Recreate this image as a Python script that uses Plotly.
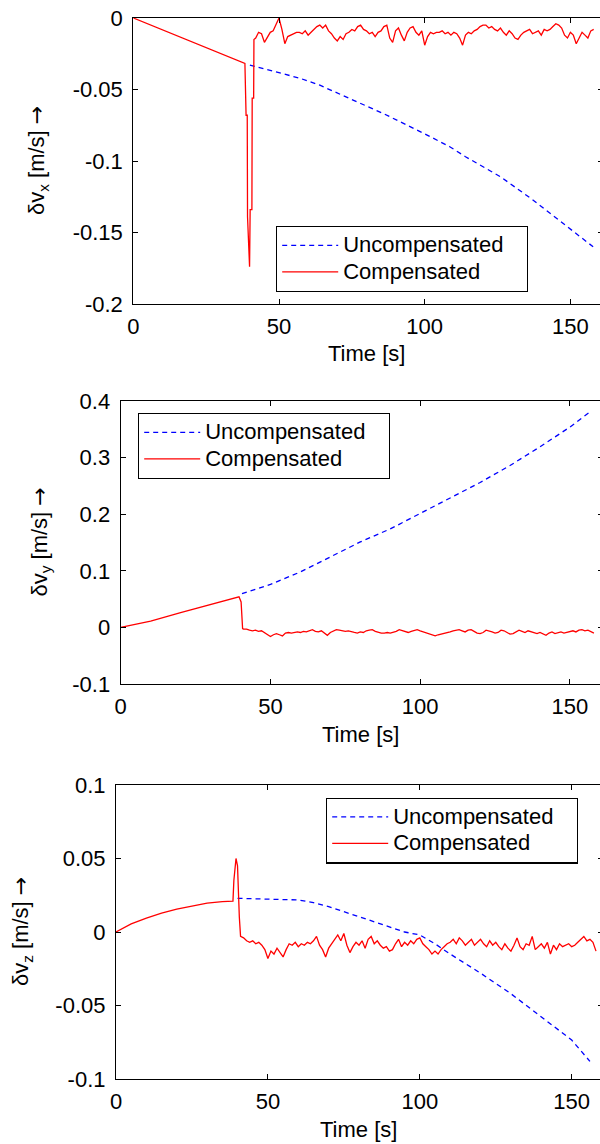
import plotly.graph_objects as go

# ---------------- data ----------------
# common sample times of the compensated (noisy) part, seconds
NOISE_T = [42, 43, 44, 45, 46, 47, 48, 49, 50, 51, 52, 53, 54, 55, 56, 57, 58, 59,
           60, 61, 62, 63, 64, 65, 66, 67, 68, 69, 70, 71, 72, 73, 74, 75, 76, 77,
           78, 79, 80, 81, 82, 83, 84, 85, 86, 87, 88, 89, 90, 91, 92, 93, 94, 95,
           96, 97, 98, 99, 100, 101, 102, 103, 104, 105, 106, 107, 108, 109, 110,
           111, 112, 113, 114, 115, 116, 117, 118, 119, 120, 121, 122, 123, 124,
           125, 126, 127, 128, 129, 130, 131, 132, 133, 134, 135, 136, 137, 138,
           139, 140, 141, 142, 143, 144, 145, 146, 147, 148, 149, 150, 151, 152,
           153, 154, 155, 156, 157, 158]

# ---- panel 1 : delta v_x ----
X_COMP_T = [0, 10, 20, 30, 38.3, 38.7, 39.1, 39.2, 39.9, 40.1, 40.7, 40.8, 41.3, 41.4]
X_COMP_V = [0, -0.0083, -0.0166, -0.0248, -0.0317, -0.068, -0.068, -0.139, -0.174,
            -0.134, -0.134, -0.056, -0.056, -0.015]
X_NOISE = [-0.014, -0.010, -0.011, -0.017, -0.013, -0.010, -0.009, -0.005, 0.000, -0.008,
           -0.018, -0.013, -0.012, -0.011, -0.010, -0.010, -0.011, -0.009, -0.012, -0.010,
           -0.008, -0.006, -0.005, -0.007, -0.005, -0.009, -0.011, -0.014, -0.016, -0.013,
           -0.015, -0.011, -0.010, -0.008, -0.009, -0.006, -0.005, -0.008, -0.009, -0.011,
           -0.010, -0.013, -0.010, -0.009, -0.006, -0.005, -0.014, -0.017, -0.009, -0.007,
           -0.012, -0.016, -0.010, -0.007, -0.006, -0.010, -0.012, -0.009, -0.019, -0.013,
           -0.010, -0.011, -0.010, -0.010, -0.009, -0.011, -0.010, -0.012, -0.010, -0.011,
           -0.014, -0.019, -0.012, -0.010, -0.011, -0.009, -0.008, -0.006, -0.005, -0.005,
           -0.007, -0.006, -0.008, -0.009, -0.007, -0.010, -0.012, -0.009, -0.011, -0.014,
           -0.015, -0.012, -0.010, -0.009, -0.008, -0.011, -0.010, -0.009, -0.012, -0.008,
           -0.009, -0.008, -0.006, -0.004, -0.005, -0.007, -0.012, -0.014, -0.010, -0.012,
           -0.018, -0.014, -0.010, -0.012, -0.014, -0.009, -0.008]
X_UNC_T = [40, 45, 50, 57, 64, 74, 86, 100, 108.6, 114, 126, 137, 149, 157.8]
X_UNC_V = [-0.033, -0.0355, -0.038, -0.042, -0.047, -0.056, -0.067, -0.081, -0.090,
           -0.097, -0.111, -0.127, -0.146, -0.160]

# ---- panel 2 : delta v_y ----
Y_COMP_T = [0, 10, 20, 30, 38.5, 39.5, 40.2, 40.7, 41]
Y_COMP_V = [0, 0.011, 0.026, 0.041, 0.053, 0.054, 0.045, -0.002, -0.003]
Y_NOISE = [-0.003, -0.005, -0.006, -0.005, -0.007, -0.006, -0.009, -0.012, -0.016, -0.013,
           -0.011, -0.013, -0.015, -0.010, -0.009, -0.010, -0.009, -0.008, -0.009, -0.007,
           -0.008, -0.006, -0.004, -0.007, -0.008, -0.006, -0.010, -0.014, -0.009, -0.006,
           -0.004, -0.005, -0.006, -0.007, -0.006, -0.008, -0.009, -0.010, -0.008, -0.009,
           -0.006, -0.005, -0.004, -0.007, -0.009, -0.010, -0.010, -0.009, -0.010, -0.009,
           -0.007, -0.004, -0.006, -0.008, -0.009, -0.007, -0.005, -0.004, -0.006, -0.008,
           -0.009, -0.012, -0.014, -0.015, -0.013, -0.012, -0.011, -0.010, -0.008, -0.006,
           -0.005, -0.004, -0.006, -0.008, -0.005, -0.004, -0.007, -0.010, -0.011, -0.009,
           -0.005, -0.006, -0.008, -0.010, -0.009, -0.005, -0.006, -0.009, -0.012, -0.011,
           -0.008, -0.005, -0.007, -0.009, -0.006, -0.008, -0.010, -0.011, -0.009, -0.012,
           -0.014, -0.010, -0.008, -0.011, -0.009, -0.008, -0.010, -0.009, -0.007, -0.006,
           -0.008, -0.005, -0.004, -0.006, -0.005, -0.008, -0.010]
Y_UNC_T = [40.5, 50, 60, 70, 80, 90, 100, 110, 120, 130, 140, 150, 157]
Y_UNC_V = [0.0595, 0.076, 0.098, 0.124, 0.151, 0.174, 0.201, 0.228, 0.256, 0.286,
           0.319, 0.354, 0.382]

# ---- panel 3 : delta v_z ----
Z_COMP_T = [0, 5, 10, 15, 20, 25, 30, 35, 38.5, 38.8, 39.5, 40.0, 40.3, 40.6, 41.0]
Z_COMP_V = [0, 0.0055, 0.0095, 0.0128, 0.0155, 0.0178, 0.0196, 0.0207, 0.021,
            0.035, 0.050, 0.045, 0.024, 0.010, -0.003]
Z_NOISE = [-0.004, -0.006, -0.007, -0.006, -0.008, -0.007, -0.009, -0.012, -0.018, -0.013,
           -0.015, -0.011, -0.014, -0.017, -0.012, -0.008, -0.009, -0.007, -0.010, -0.008,
           -0.009, -0.007, -0.008, -0.006, -0.003, -0.009, -0.012, -0.017, -0.011, -0.008,
           -0.005, -0.002, -0.006, -0.001, -0.009, -0.014, -0.010, -0.007, -0.009, -0.006,
           -0.011, -0.005, -0.003, -0.008, -0.006, -0.009, -0.011, -0.010, -0.013, -0.012,
           -0.008, -0.005, -0.010, -0.007, -0.009, -0.006, -0.008, -0.005, -0.004, -0.008,
           -0.010, -0.012, -0.015, -0.013, -0.015, -0.012, -0.010, -0.008, -0.007, -0.005,
           -0.008, -0.004, -0.006, -0.009, -0.007, -0.005, -0.009, -0.007, -0.005, -0.008,
           -0.010, -0.006, -0.009, -0.007, -0.010, -0.012, -0.008, -0.011, -0.013, -0.009,
           -0.004, -0.010, -0.012, -0.008, -0.009, -0.003, -0.012, -0.010, -0.008, -0.011,
           -0.007, -0.015, -0.009, -0.012, -0.008, -0.010, -0.009, -0.008, -0.010, -0.009,
           -0.007, -0.005, -0.003, -0.006, -0.005, -0.007, -0.013]
Z_UNC_T = [40, 50, 60, 65, 70, 80, 90, 95, 100, 105, 110, 120, 130, 140, 150, 156]
Z_UNC_V = [0.0229, 0.0225, 0.0218, 0.020, 0.0172, 0.0104, 0.0036, 0.000, -0.002, -0.008,
           -0.015, -0.028, -0.042, -0.0576, -0.0735, -0.088]

X_TICKS = [0, 50, 100, 150]
X_TICK_TEXT = ["0", "50", "100", "150"]
P1_YTICKS = [-0.2, -0.15, -0.1, -0.05, 0]
P1_YTEXT = ["-0.2", "-0.15", "-0.1", "-0.05", "0"]
P2_YTICKS = [-0.1, 0, 0.1, 0.2, 0.3, 0.4]
P2_YTEXT = ["-0.1", "0", "0.1", "0.2", "0.3", "0.4"]
P3_YTICKS = [-0.1, -0.05, 0, 0.05, 0.1]
P3_YTEXT = ["-0.1", "-0.05", "0", "0.05", "0.1"]

SERIES_NAMES = ["Uncompensated", "Compensated"]
ARROW = '<span style="font-family:DejaVu Sans">→</span>'
Y_TITLES = ["δv<sub>x</sub> [m/s] " + ARROW, "δv<sub>y</sub> [m/s] " + ARROW,
            "δv<sub>z</sub> [m/s] " + ARROW]
X_TITLE = "Time [s]"

# ---------------- figure ----------------
# The page is 600 px wide; the figure is a few px wider so that the right
# frame line of each panel falls just outside the visible area, as in the
# reference.
VIEW_W = 600
W, H = 603, 1144
FONT = "Liberation Sans, Arial, Helvetica, sans-serif"
FS = 22
BLUE = "rgb(0,0,255)"
RED = "rgb(255,0,0)"


def py(px):
    return 1 - px / H


def px_(x):
    return x / W


def legend_label(s, pad=""):
    # larger text than the legend font keeps the rows as tight as in the reference
    return '<span style="font-size:%dpx">%s%s</span>' % (FS, s, pad)


fig = go.Figure()

panels = [
    (X_UNC_T, X_UNC_V, X_COMP_T, X_COMP_V, X_NOISE, "", "legend"),
    (Y_UNC_T, Y_UNC_V, Y_COMP_T, Y_COMP_V, Y_NOISE, "2", "legend2"),
    (Z_UNC_T, Z_UNC_V, Z_COMP_T, Z_COMP_V, Z_NOISE, "3", "legend3"),
]
for ut, uv, ct, cv, nv, sfx, leg in panels:
    fig.add_trace(go.Scatter(x=ut, y=uv, mode="lines",
                             name=legend_label(SERIES_NAMES[0], "\u00a0\u00a0\u00a0"),
                             line=dict(color=BLUE, width=1.3, dash="5px,4px"),
                             xaxis="x" + sfx, yaxis="y" + sfx, legend=leg))
    fig.add_trace(go.Scatter(x=ct + NOISE_T, y=cv + nv, mode="lines",
                             name=legend_label(SERIES_NAMES[1]),
                             line=dict(color=RED, width=1.3),
                             xaxis="x" + sfx, yaxis="y" + sfx, legend=leg))

# plot-area geometry in pixels: (left, top, bottom, px per second)
geo = [(133.3, 18, 304, 2.914), (120.7, 401, 684, 2.995), (116, 785, 1079, 3.038)]
yranges = [(-0.2, 0), (-0.1, 0.4), (-0.1, 0.1)]
yticks = [(P1_YTICKS, P1_YTEXT), (P2_YTICKS, P2_YTEXT), (P3_YTICKS, P3_YTEXT)]

axis_common = dict(showline=True, linecolor="black", linewidth=1.2, mirror="ticks",
                   ticks="inside", ticklen=5, tickwidth=1.2, tickcolor="black",
                   showgrid=False, zeroline=False, automargin=False,
                   tickfont=dict(family=FONT, size=FS, color="black"))

layout = dict(width=W, height=H, margin=dict(l=0, r=0, t=0, b=0, autoexpand=False),
              paper_bgcolor="white", plot_bgcolor="white",
              font=dict(family=FONT, size=FS, color="black"))
annotations = []
legend_pos = [(276, 226), (138, 413), (326, 797.5)]
for i, (left, top, bottom, scale) in enumerate(geo):
    sfx = "" if i == 0 else str(i + 1)
    xmax = (W - left) / scale
    layout["xaxis" + sfx] = dict(axis_common, domain=[px_(left), 1], range=[0, xmax],
                                 anchor="y" + sfx, tickvals=X_TICKS, ticktext=X_TICK_TEXT,
                                 ticklabelstandoff=2)
    layout["yaxis" + sfx] = dict(axis_common, domain=[py(bottom), py(top)],
                                 range=list(yranges[i]), anchor="x" + sfx,
                                 tickvals=yticks[i][0], ticktext=yticks[i][1],
                                 ticklabelstandoff=5)
    lx, ly = legend_pos[i]
    layout["legend" + sfx] = dict(x=px_(lx), y=py(ly), xanchor="left", yanchor="top",
                                  xref="paper", yref="paper",
                                  bgcolor="white", bordercolor="black", borderwidth=1.2,
                                  font=dict(family=FONT, size=18, color="black"),
                                  itemwidth=56, tracegroupgap=0)
    # x title
    annotations.append(dict(text=X_TITLE, x=px_((left + VIEW_W) / 2), y=py(bottom + 50),
                            xref="paper", yref="paper", showarrow=False,
                            xanchor="center", yanchor="middle",
                            font=dict(family=FONT, size=FS, color="black")))
ytitle_x = [38, 40, 22]
for i, (left, top, bottom, scale) in enumerate(geo):
    annotations.append(dict(text=Y_TITLES[i], x=px_(ytitle_x[i]), y=py((top + bottom) / 2),
                            xref="paper", yref="paper", showarrow=False, textangle=-90,
                            xanchor="center", yanchor="middle",
                            font=dict(family=FONT, size=FS, color="black")))
layout["annotations"] = annotations
fig.update_layout(**layout)

fig.write_html("out.html", config={"displayModeBar": False},
               post_script="document.body.style.margin='0px';"
                           "document.documentElement.style.overflow='hidden';"
                           "document.body.style.overflow='hidden';")
